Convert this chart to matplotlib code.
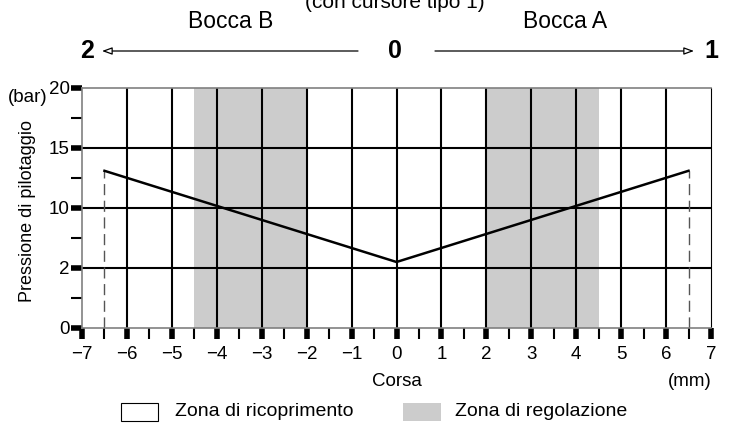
import matplotlib
matplotlib.use("Agg")
import matplotlib.pyplot as plt
from matplotlib.patches import Rectangle
import numpy as np

FONT = ['Liberation Sans', 'DejaVu Sans']
plt.rcParams['font.family'] = FONT

x_ticks = list(range(-7, 8))
x_tick_labels = ['\u22127', '\u22126', '\u22125', '\u22124', '\u22123', '\u22122', '\u22121',
                 '0', '1', '2', '3', '4', '5', '6', '7']
y_tick_pos = [0, 5, 10, 15, 20]
y_tick_labels = ['0', '2', '10', '15', '20']
stroke = [-6.5, 0, 6.5]
pressure = [13.1, 5.5, 13.1]
zones = [(-4.5, -2.0), (2.0, 4.5)]

W, H = 735, 426
fig = plt.figure(figsize=(7.35, 4.26), dpi=100)
ax = fig.add_axes([82 / W, 1 - 328 / H, (711 - 82) / W, (328 - 88) / H])
ax.set_xlim(-7, 7)
ax.set_ylim(0, 20)

for a, b in zones:
    ax.axvspan(a, b, color='#cccccc', lw=0, zorder=0)
for xv in range(-6, 7):
    ax.axvline(xv, color='black', lw=1.5, zorder=1)
for yv in [5, 10, 15]:
    ax.axhline(yv, color='black', lw=1.5, zorder=1)

ax.plot(stroke, pressure, color='black', lw=1.8, zorder=3)
for xe, ye in [(stroke[0], pressure[0]), (stroke[-1], pressure[-1])]:
    ax.plot([xe, xe], [0, ye], color='#555555', lw=1.0, ls=(0, (8, 4)), zorder=2)

for s in ['left', 'top', 'bottom']:
    ax.spines[s].set_color('#808080')
    ax.spines[s].set_linewidth(1.2)
ax.spines['right'].set_color('black')
ax.spines['right'].set_linewidth(0.8)

ax.set_xticks(x_ticks)
ax.set_xticklabels(x_tick_labels)
ax.set_xticks(np.arange(-6.5, 7, 1.0), minor=True)
ax.set_yticks(y_tick_pos)
ax.set_yticklabels(y_tick_labels)
ax.set_yticks([2.5, 7.5, 12.5, 17.5], minor=True)
ax.tick_params(axis='both', which='major', direction='out', length=8, width=4,
               color='black', labelsize=13.5)
ax.tick_params(axis='x', which='major', pad=5)
ax.tick_params(axis='y', which='major', pad=1)
ax.tick_params(axis='both', which='minor', direction='out', length=8, width=1.5,
               color='black')

fig.text(28 / W, 0.505, 'Pressione di pilotaggio', rotation=90, ha='center', va='center',
         fontsize=13)
fig.text(8 / W, 1 - 97 / H, '(bar)', ha='left', va='center', fontsize=13.5)
fig.text(397 / W, 1 - 381 / H, 'Corsa', ha='center', va='center', fontsize=13.5)
fig.text(690 / W, 1 - 381 / H, '(mm)', ha='center', va='center', fontsize=13.5)

# legend
ly = 412
fig.patches.append(Rectangle((121 / W, 1 - (ly + 9) / H), 37 / W, 18 / H,
                             transform=fig.transFigure, fc='white', ec='black', lw=0.8))
fig.text(175 / W, 1 - ly / H, 'Zona di ricoprimento', ha='left', va='center', fontsize=14)
fig.patches.append(Rectangle((403 / W, 1 - (ly + 9) / H), 38 / W, 18 / H,
                             transform=fig.transFigure, fc='#cccccc', ec='none'))
fig.text(455 / W, 1 - ly / H, 'Zona di regolazione', ha='left', va='center', fontsize=14)

# top annotations
fig.text(395 / W, 1 - 2 / H, '(con cursore tipo 1)', ha='center', va='center', fontsize=15)
fig.text(231 / W, 1 - 22 / H, 'Bocca B', ha='center', va='center', fontsize=16.5)
fig.text(565 / W, 1 - 22 / H, 'Bocca A', ha='center', va='center', fontsize=16.5)
yb = 1 - 51 / H
fig.text(87 / W, yb, '2', ha='center', va='center', fontsize=18, fontweight='bold')
fig.text(395 / W, yb, '0', ha='center', va='center', fontsize=18, fontweight='bold')
fig.text(711 / W, yb, '1', ha='center', va='center', fontsize=18, fontweight='bold')
ann_kw = dict(xycoords='figure fraction', textcoords='figure fraction',
              arrowprops=dict(arrowstyle='-|>,head_length=0.6,head_width=0.22',
                              fc='white', ec='black', lw=0.9, shrinkA=0, shrinkB=0))
fig.add_artist(plt.Annotation('', xy=(102 / W, yb), xytext=(358 / W, yb), **ann_kw))
fig.add_artist(plt.Annotation('', xy=(694 / W, yb), xytext=(435 / W, yb), **ann_kw))

fig.savefig('out.png', dpi=100)
